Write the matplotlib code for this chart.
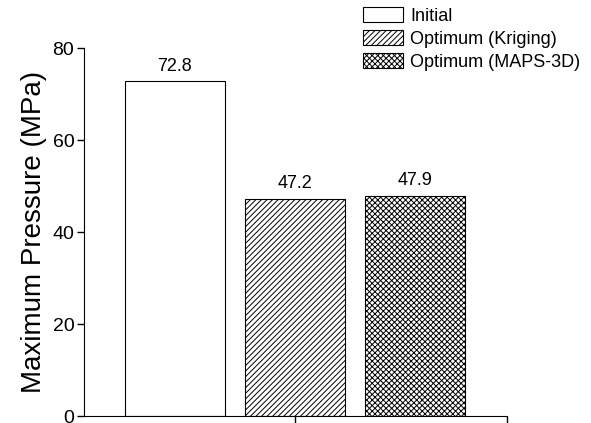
import matplotlib.pyplot as plt
import matplotlib as mpl

plt.rcParams['font.family'] = ['Liberation Sans', 'DejaVu Sans']
mpl.rcParams['hatch.linewidth'] = 0.7

labels = ['Initial', 'Optimum (Kriging)', 'Optimum (MAPS-3D)']
values = [72.8, 47.2, 47.9]
hatches = ['', '//////', 'xxxxxx']

fig = plt.figure(figsize=(5.91, 4.23), dpi=100)
ax = fig.add_axes([0.1421, 0.0165, 0.7158, 0.87])

pos = [1, 2, 3]
for p, v, h, lab in zip(pos, values, hatches, labels):
    ax.bar(p, v, width=0.833, color='white', edgecolor='black',
           linewidth=0.8, hatch=h, label=lab)
    ax.text(p, v + 1.4, f'{v:.1f}', ha='center', va='bottom', fontsize=13)

ax.set_xlim(0.242, 3.767)
ax.set_ylim(0, 80)
ax.set_yticks([0, 20, 40, 60, 80])
ax.set_xticks([2, 3.767])
ax.set_xticklabels(['', ''])
ax.tick_params(axis='y', labelsize=14, length=5, width=1, pad=2)
ax.tick_params(axis='x', length=5, width=1)
ax.spines['top'].set_visible(False)
ax.spines['right'].set_visible(False)
ax.set_ylabel('Maximum Pressure (MPa)', fontsize=20, labelpad=4)

fig.legend(loc='upper left', bbox_to_anchor=(0.602, 1.0), frameon=False,
           fontsize=13, handlelength=2.2, handleheight=0.9, handletextpad=0.4,
           labelspacing=0.3, borderaxespad=0)

fig.savefig('out.png', dpi=100)
